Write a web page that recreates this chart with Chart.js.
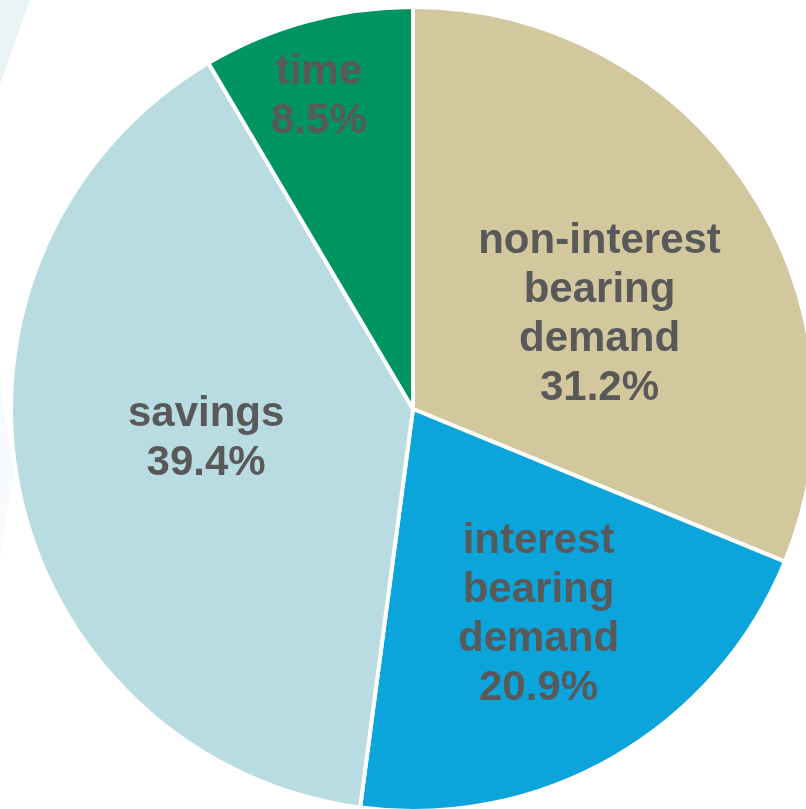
<!DOCTYPE html>
<html>
<head>
<meta charset="utf-8">
<script src="https://cdn.jsdelivr.net/npm/chart.js@4.4.1/dist/chart.umd.min.js"></script>
<style>
  html, body { margin: 0; padding: 0; background: #fff; overflow: hidden; width: 806px; height: 809px; }
  #wrap { position: absolute; left: 0; top: 0; width: 826px; height: 818px; }
</style>
</head>
<body>
<div id="wrap"><canvas id="pie"></canvas></div>
<script>
// deposit mix, clockwise from 12 o'clock
const categories = [
  ['non-interest', 'bearing', 'demand'],
  ['interest', 'bearing', 'demand'],
  ['savings'],
  ['time']
];
const shares = [31.2, 20.9, 39.4, 8.5];
const colors = ['#d3c79e', '#0ba5dc', '#b8dce2', '#009460'];

// label placement: radius fraction and small angle nudge (deg) per slice
const labelRadius = [0.52, 0.6, 0.52, 0.81];
const labelNudge = [7, -1.3, 3.2, -1.5];

// faint backdrop shape in the corner
const backdrop = {
  id: 'backdrop',
  beforeDraw(chart) {
    const ctx = chart.ctx;
    ctx.save();
    ctx.fillStyle = '#eaf4f7';
    ctx.beginPath();
    ctx.moveTo(0, 0);
    ctx.lineTo(30, 0);
    ctx.lineTo(0, 84);
    ctx.closePath();
    ctx.fill();
    ctx.fillStyle = '#f8fbfd';
    ctx.beginPath();
    ctx.moveTo(0, 380);
    ctx.lineTo(14, 470);
    ctx.lineTo(0, 560);
    ctx.closePath();
    ctx.fill();
    ctx.restore();
  }
};

const sliceLabels = {
  id: 'sliceLabels',
  afterDatasetsDraw(chart) {
    const ctx = chart.ctx;
    const meta = chart.getDatasetMeta(0);
    ctx.save();
    ctx.fillStyle = '#595959';
    ctx.font = 'bold 42px "Liberation Sans", Arial, sans-serif';
    ctx.textAlign = 'center';
    ctx.textBaseline = 'middle';
    meta.data.forEach((arc, i) => {
      const p = arc.getProps(['x', 'y', 'startAngle', 'endAngle', 'outerRadius'], true);
      const a = (p.startAngle + p.endAngle) / 2 + labelNudge[i] * Math.PI / 180;
      const r = p.outerRadius * labelRadius[i];
      const cx = p.x + Math.cos(a) * r;
      const cy = p.y + Math.sin(a) * r;
      const lines = categories[i].concat([shares[i].toFixed(1) + '%']);
      const lh = 49;
      const top = cy - (lines.length - 1) * lh / 2;
      lines.forEach((t, k) => ctx.fillText(t, cx, top + k * lh));
    });
    ctx.restore();
  }
};

new Chart(document.getElementById('pie'), {
  type: 'pie',
  data: {
    labels: categories.map(c => c.join(' ')),
    datasets: [{
      data: shares,
      backgroundColor: colors,
      borderColor: '#ffffff',
      borderWidth: 4
    }]
  },
  options: {
    responsive: true,
    maintainAspectRatio: false,
    animation: false,
    radius: 402,
    layout: { padding: 0 },
    plugins: {
      legend: { display: false },
      tooltip: { enabled: false }
    }
  },
  plugins: [backdrop, sliceLabels]
});
</script>
</body>
</html>
